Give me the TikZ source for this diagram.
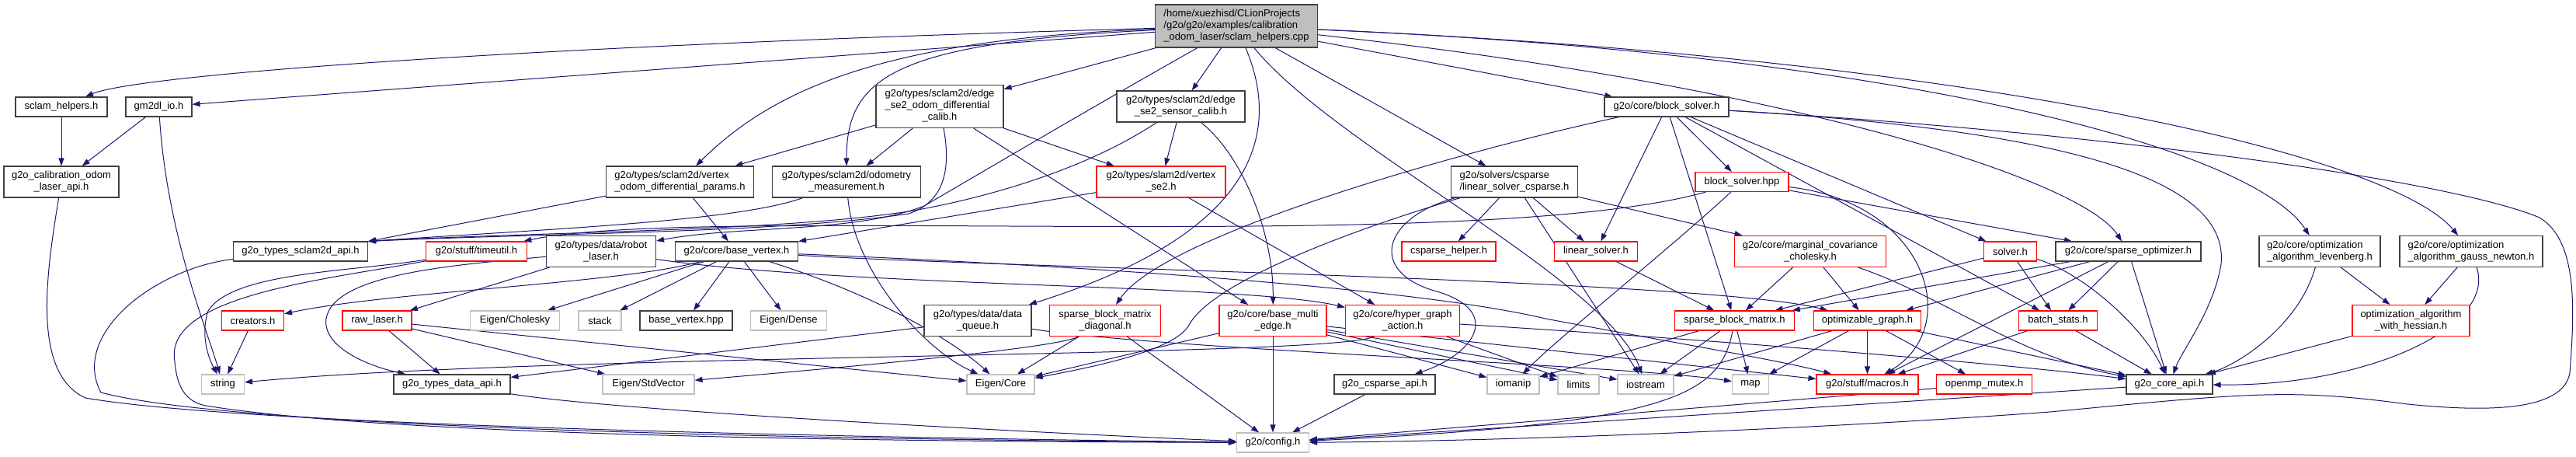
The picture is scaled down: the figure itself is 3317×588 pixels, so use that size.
\documentclass[tikz,border=0pt]{standalone}
\usepackage{fontspec}
\setmainfont{Liberation Sans}
\usetikzlibrary{arrows.meta}
\pgfdeclarelayer{edgelayer}
\pgfsetlayers{edgelayer,main}
\definecolor{edgecol}{HTML}{191970}
\definecolor{lgray}{HTML}{BFBFBF}
\definecolor{dgray}{HTML}{404040}
\definecolor{bred}{HTML}{FF0000}
\newcommand\twoL[2]{\begin{tabular}{@{}l@{}}#1\\\multicolumn{1}{@{}c@{}}{#2}\end{tabular}}
\newcommand\threeL[3]{\begin{tabular}{@{}l@{}}#1\\#2\\\multicolumn{1}{@{}c@{}}{#3}\end{tabular}}
\tikzset{
  nb/.style={rectangle, inner sep=0pt, minimum height=25pt, font=\fontsize{13}{15}\selectfont, text=black, line width=1.1pt, fill=white},
  bk/.style={nb, draw=dgray},
  rd/.style={nb, draw=bred},
  gy/.style={nb, draw=lgray},
  h2/.style={minimum height=40pt},
  h3/.style={minimum height=55pt},
  edg/.style={draw=edgecol, line width=1pt, -{Triangle[length=10pt,width=7pt]}},
}
\begin{document}
\begin{tikzpicture}[x=1pt,y=-1pt]
\begin{pgfonlayer}{edgelayer}
\fill[white] (0,0) rectangle (3317,588);
\end{pgfonlayer}
\useasboundingbox (0,0) rectangle (3317,588);

% ---------- nodes ----------
\node[bk,h3,fill=lgray,minimum width=209pt] (root) at (1592,33.5) {\threeL{/home/xuezhisd/CLionProjects}{/g2o/g2o/examples/calibration}{\_odom\_laser/sclam\_helpers.cpp}};
\node[bk,minimum width=118pt] (sclam) at (79,137.5) {sclam\_helpers.h};
\node[bk,minimum width=85pt] (gmio) at (204.5,137.5) {gm2dl\_io.h};
\node[bk,h3,minimum width=164pt] (eodc) at (1210,137) {\threeL{g2o/types/sclam2d/edge}{\_se2\_odom\_differential}{\_calib.h}};
\node[bk,h2,minimum width=165pt] (esc) at (1520.5,137) {\twoL{g2o/types/sclam2d/edge}{\_se2\_sensor\_calib.h}};
\node[bk,minimum width=160pt] (bsolver) at (2146,137.5) {g2o/core/block\_solver.h};
\node[bk,h2,minimum width=148pt] (calib) at (79,234) {\twoL{g2o\_calibration\_odom}{\_laser\_api.h}};
\node[bk,h2,minimum width=190pt] (vodp) at (875.5,234) {\twoL{g2o/types/sclam2d/vertex}{\_odom\_differential\_params.h}};
\node[bk,h2,minimum width=191pt] (odom) at (1090,234) {\twoL{g2o/types/sclam2d/odometry}{\_measurement.h}};
\node[rd,h2,minimum width=166pt] (vse2) at (1495,234) {\twoL{g2o/types/slam2d/vertex}{\_se2.h}};
\node[bk,h2,minimum width=163pt] (lscs) at (1950,234) {\twoL{g2o/solvers/csparse}{/linear\_solver\_csparse.h}};
\node[rd,minimum width=120pt] (bshpp) at (2243,234) {block\_solver.hpp};
\node[bk,minimum width=173pt] (ssapi) at (387,323.5) {g2o\_types\_sclam2d\_api.h};
\node[rd,minimum width=130pt] (timeutil) at (613.5,323.5) {g2o/stuff/timeutil.h};
\node[bk,h2,minimum width=141pt] (robotlaser) at (774,323.5) {\twoL{g2o/types/data/robot}{\_laser.h}};
\node[bk,minimum width=158pt] (basevertex) at (948.5,323.5) {g2o/core/base\_vertex.h};
\node[rd,minimum width=121pt] (cshelper) at (1865.5,323.5) {csparse\_helper.h};
\node[rd,minimum width=107pt] (linsolver) at (2055,323.5) {linear\_solver.h};
\node[rd,h2,minimum width=195pt] (margcov) at (2331,323.5) {\twoL{g2o/core/marginal\_covariance}{\_cholesky.h}};
\node[rd,minimum width=68pt] (solver) at (2588.5,323.5) {solver.h};
\node[bk,minimum width=187pt] (sparseopt) at (2740.5,323.5) {g2o/core/sparse\_optimizer.h};
\node[bk,h2,minimum width=156pt] (lev) at (2987,323.5) {\twoL{g2o/core/optimization}{\_algorithm\_levenberg.h}};
\node[bk,h2,minimum width=184pt] (gn) at (3182,323.5) {\twoL{g2o/core/optimization}{\_algorithm\_gauss\_newton.h}};
\node[rd,minimum width=80pt] (creators) at (325.5,412.5) {creators.h};
\node[rd,minimum width=89pt] (rawlaser) at (485.5,412.5) {raw\_laser.h};
\node[gy,minimum width=115pt] (cholesky) at (663,412.5) {Eigen/Cholesky};
\node[gy,minimum width=55pt] (stack) at (772.5,412.5) {stack};
\node[bk,minimum width=119pt] (bvhpp) at (883.5,412.5) {base\_vertex.hpp};
\node[gy,minimum width=98pt] (dense) at (1015.5,412.5) {Eigen/Dense};
\node[bk,h2,minimum width=138pt] (dataqueue) at (1259,412.5) {\twoL{g2o/types/data/data}{\_queue.h}};
\node[rd,h2,minimum width=143pt] (sbmd) at (1423,412.5) {\twoL{sparse\_block\_matrix}{\_diagonal.h}};
\node[rd,h2,minimum width=138pt] (bme) at (1639,412.5) {\twoL{g2o/core/base\_multi}{\_edge.h}};
\node[rd,h2,minimum width=147pt] (hga) at (1806,412.5) {\twoL{g2o/core/hyper\_graph}{\_action.h}};
\node[rd,minimum width=154pt] (sbm) at (2233.5,412.5) {sparse\_block\_matrix.h};
\node[rd,minimum width=138pt] (optgraph) at (2404.5,412.5) {optimizable\_graph.h};
\node[rd,minimum width=101pt] (batch) at (2650,412.5) {batch\_stats.h};
\node[rd,h2,minimum width=151pt] (oawh) at (3104.5,412.5) {\twoL{optimization\_algorithm}{\_with\_hessian.h}};
\node[gy,minimum width=55pt] (string) at (287,494.5) {string};
\node[bk,minimum width=150pt] (dataapi) at (582,494.5) {g2o\_types\_data\_api.h};
\node[gy,minimum width=118pt] (stdvector) at (835,494.5) {Eigen/StdVector};
\node[gy,minimum width=87pt] (core) at (1288.5,494.5) {Eigen/Core};
\node[bk,minimum width=130pt] (csapi) at (1783,494.5) {g2o\_csparse\_api.h};
\node[gy,minimum width=67pt] (iomanip) at (1948.5,494.5) {iomanip};
\node[gy,minimum width=53pt] (limits) at (2032.5,494.5) {limits};
\node[gy,minimum width=72pt] (iostream) at (2119,494.5) {iostream};
\node[gy,minimum width=47pt] (map) at (2254,494.5) {map};
\node[rd,minimum width=131pt] (macros) at (2404.5,494.5) {g2o/stuff/macros.h};
\node[rd,minimum width=123pt] (openmp) at (2555,494.5) {openmp\_mutex.h};
\node[bk,minimum width=111pt] (coreapi) at (2793.5,494.5) {g2o\_core\_api.h};
\node[gy,minimum width=93pt] (config) at (1639,569.5) {g2o/config.h};

% ---------- edges ----------
\begin{pgfonlayer}{edgelayer}
% root
\draw[edg] (root) .. controls (700,58) and (180,95) .. (sclam);
\draw[edg] (root) -- (gmio);
\draw[edg] (root) -- (eodc);
\draw[edg] (root) .. controls (1150,50) and (1000,110) .. (vodp);
\draw[edg] (root) .. controls (1150,55) and (1090,100) .. (odom);
\draw[edg] (root) -- (esc);
\draw[edg] (root) .. controls (1420,130) and (1250,230) .. (1190,265) .. controls (1100,300) and (950,290) .. (robotlaser);
\draw[edg] (root) .. controls (1650,170) and (1620,300) .. (dataqueue);
\draw[edg] (root) -- (lscs);
\draw[edg] (root) -- (bsolver);
\draw[edg] (root) .. controls (2300,110) and (2680,230) .. (sparseopt);
\draw[edg] (root) .. controls (2450,70) and (2900,190) .. (lev);
\draw[edg] (root) .. controls (2550,75) and (3080,200) .. (gn);
\draw[edg] (root) .. controls (1720,190) and (2070,360) .. (iostream);
% left part
\draw[edg] (sclam) -- (calib);
\draw[edg] (gmio) -- (calib);
\draw[edg] (gmio) .. controls (215,300) and (265,420) .. (string);
\draw[edg] (calib) .. controls (60,350) and (40,480) .. (110,512) .. controls (300,545) and (1000,562) .. (config);
\draw[edg] (eodc) -- (vodp);
\draw[edg] (eodc) -- (odom);
\draw[edg] (eodc) .. controls (1225,220) and (1215,260) .. (1170,275) .. controls (1000,300) and (700,300) .. (ssapi.north east);
\draw[edg] (eodc) -- (vse2);
\draw[edg] (eodc) -- (bme);
\draw[edg] (esc) -- (vse2);
\draw[edg] (esc) .. controls (1380,230) and (1230,262) .. (1170,272) .. controls (1000,298) and (700,298) .. (ssapi.north east);
\draw[edg] (esc) .. controls (1600,200) and (1640,300) .. (bme);
\draw[edg] (vodp) -- (ssapi.north east);
\draw[edg] (vodp) -- (basevertex);
\draw[edg] (odom) .. controls (950,285) and (700,295) .. (ssapi.north east);
\draw[edg] (odom) .. controls (1100,350) and (1190,450) .. (core);
\draw[edg] (vse2) -- (basevertex);
\draw[edg] (vse2) -- (hga);
\draw[edg] (ssapi) .. controls (200,345) and (90,430) .. (130,505) .. controls (300,550) and (1000,565) .. (config);
\draw[edg] (timeutil) .. controls (420,360) and (210,380) .. (225,465) .. controls (228,500) and (240,517) .. (265,522) .. controls (500,560) and (1100,568) .. (config);
\draw[edg] (timeutil) .. controls (450,350) and (300,350) .. (268,400) .. controls (258,430) and (268,460) .. (string);
\draw[edg] (robotlaser) -- (rawlaser);
\draw[edg] (robotlaser) .. controls (600,340) and (430,350) .. (420,410) .. controls (415,445) and (470,470) .. (dataapi);
\draw[edg] (robotlaser) .. controls (1100,370) and (1600,365) .. (hga);
\draw[edg] (rawlaser) -- (dataapi);
\draw[edg] (rawlaser) -- (stdvector);
\draw[edg] (rawlaser) -- (core);
\draw[edg] (creators) -- (string);
% base vertex
\draw[edg] (basevertex) .. controls (800,365) and (500,375) .. (creators);
\draw[edg] (basevertex) -- (cholesky);
\draw[edg] (basevertex) -- (stack);
\draw[edg] (basevertex) -- (bvhpp);
\draw[edg] (basevertex) -- (dense);
\draw[edg] (basevertex) .. controls (1130,380) and (1230,440) .. (core);
\draw[edg] (basevertex) .. controls (1300,345) and (2200,360) .. (optgraph);
\draw[edg] (basevertex) .. controls (1300,338) and (1800,365) .. (1990,410) .. controls (2150,440) and (2300,465) .. (macros);
% data / middle
\draw[edg] (dataqueue) -- (dataapi);
\draw[edg] (dataqueue) .. controls (1500,450) and (2100,470) .. (map);
\draw[edg] (dataapi) .. controls (800,530) and (1400,560) .. (config);
\draw[edg] (sbmd) .. controls (1360,450) and (1000,480) .. (stdvector);
\draw[edg] (sbmd) -- (core);
\draw[edg] (sbmd) -- (config);
\draw[edg] (bme) -- (core);
\draw[edg] (bme) -- (config);
\draw[edg] (bme) -- (iomanip);
\draw[edg] (bme) -- (limits);
\draw[edg] (bme) -- (iostream);
\draw[edg] (bme) -- (macros);
\draw[edg] (hga) .. controls (2250,440) and (2600,470) .. (coreapi);
\draw[edg] (hga) .. controls (1720,460) and (700,455) .. (string);
\draw[edg] (hga) -- (limits);
% csparse
\draw[edg] (lscs) -- (cshelper);
\draw[edg] (lscs) -- (linsolver);
\draw[edg] (lscs) -- (margcov);
\draw[edg] (lscs) .. controls (1780,280) and (1760,350) .. (1850,375) .. controls (1935,400) and (1900,455) .. (csapi);
\draw[edg] (lscs) .. controls (1760,290) and (1560,360) .. (1530,420) .. controls (1510,450) and (1420,470) .. (core);
\draw[edg] (lscs) -- (iostream);
% block solver
\draw[edg] (bsolver) -- (bshpp);
\draw[edg] (bsolver) -- (linsolver);
\draw[edg] (bsolver) -- (solver);
\draw[edg] (bsolver) -- (sbm);
\draw[edg] (bsolver) .. controls (1900,190) and (1500,300) .. (sbmd);
\draw[edg] (bsolver) -- (batch);
\draw[edg] (bsolver) .. controls (2700,170) and (2870,240) .. (2860,340) .. controls (2850,400) and (2810,450) .. (coreapi);
\draw[edg] (bsolver) .. controls (2700,170) and (3150,230) .. (3270,280) .. controls (3320,310) and (3315,400) .. (3309,480) .. controls (3300,530) and (3200,530) .. (3100,520) .. controls (2950,500) and (2900,505) .. (2640,530) .. controls (2300,555) and (1900,568) .. (config);
\draw[edg] (bshpp) -- (sparseopt);
\draw[edg] (bshpp) .. controls (2150,320) and (2000,440) .. (iomanip);
\draw[edg] (bshpp) .. controls (2480,260) and (2530,420) .. (macros);
\draw[edg] (bshpp) .. controls (1900,330) and (900,262) .. (timeutil);
% core
\draw[edg] (margcov) -- (sbm);
\draw[edg] (margcov) -- (optgraph);
\draw[edg] (margcov) .. controls (2500,380) and (2600,460) .. (coreapi);
\draw[edg] (solver) -- (sbm);
\draw[edg] (solver) -- (batch);
\draw[edg] (solver) .. controls (2680,350) and (2760,420) .. (coreapi);
\draw[edg] (sparseopt) -- (optgraph);
\draw[edg] (sparseopt) -- (sbm);
\draw[edg] (sparseopt) -- (batch);
\draw[edg] (sparseopt) -- (coreapi);
\draw[edg] (sparseopt) -- (macros);
\draw[edg] (linsolver) -- (sbm);
\draw[edg] (sbm) -- (iostream);
\draw[edg] (sbm) -- (map);
\draw[edg] (sbm) -- (iomanip);
\draw[edg] (sbm) .. controls (2215,510) and (2150,545) .. (config);
\draw[edg] (optgraph) -- (iostream);
\draw[edg] (optgraph) -- (map);
\draw[edg] (optgraph) -- (macros);
\draw[edg] (optgraph) -- (openmp);
\draw[edg] (optgraph) -- (coreapi);
\draw[edg] (batch) -- (coreapi);
\draw[edg] (batch) -- (macros);
\draw[edg] (lev) -- (oawh);
\draw[edg] (lev) .. controls (2960,420) and (2880,470) .. (coreapi);
\draw[edg] (gn) -- (oawh);
\draw[edg] (gn) .. controls (3215,420) and (3050,497) .. (coreapi);
\draw[edg] (oawh) -- (coreapi);
\draw[edg] (csapi) -- (config);
\draw[edg] (openmp) -- (config);
\draw[edg] (coreapi) -- (config);
\end{pgfonlayer}
\end{tikzpicture}
\end{document}
